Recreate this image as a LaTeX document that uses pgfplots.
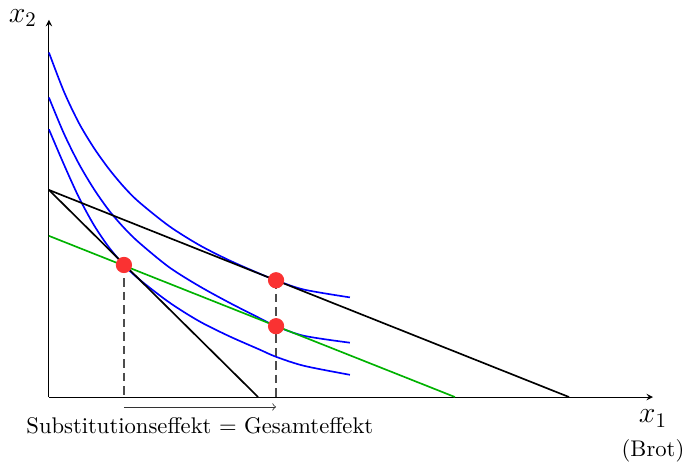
\documentclass[border=0pt]{standalone}
\usepackage{pgfplots}
\pgfplotsset{compat=1.18}
\definecolor{dotred}{RGB}{250,50,50}
\definecolor{lgreen}{RGB}{0,178,0}

\begin{document}
\begin{tikzpicture}
\begin{axis}[
    x=0.508cm, y=0.508cm,
    xmin=0, xmax=20.13, ymin=0, ymax=12.57,
    axis lines=left,
    axis line style={thin},
    xtick=\empty, ytick=\empty,
    clip=false,
]
% Rahmen fuer die Bildgroesse
\path (axis cs:-1.63,-2.2) rectangle (axis cs:21.23,13.23);
% Indifferenzkurven
\addplot[blue, thick, smooth] coordinates {
    (0,11.48) (0.5,10.18) (1,9.13) (1.5,8.30) (2,7.60) (2.5,7.00) (3,6.50)
    (4,5.70) (5,5.07) (6,4.56) (7,4.12) (7.57,3.89) (8.5,3.58) (10.03,3.32)};
\addplot[blue, thick, smooth] coordinates {
    (0,9.98) (0.5,8.78) (1,7.77) (1.5,6.93) (2,6.22) (2.5,5.64) (3,5.15)
    (4,4.33) (5,3.70) (6,3.15) (7,2.64) (7.57,2.36) (8.5,2.04) (10.03,1.81)};
\addplot[blue, thick, smooth] coordinates {
    (0,8.92) (0.5,7.75) (1,6.65) (1.5,5.73) (2,4.99) (2.5,4.40) (3,3.93)
    (4,3.16) (5,2.53) (6,2.03) (7,1.59) (7.57,1.34) (8.5,1.04) (10.03,0.74)};
% Budgetgeraden
\addplot[black, thick] coordinates {(0,6.90) (6.97,0)};
\addplot[black, thick] coordinates {(0,6.90) (17.33,0)};
\addplot[lgreen, thick] coordinates {(0,5.37) (13.53,0)};
% Hilfslinien
\addplot[black!70, semithick, dash pattern=on 4pt off 2.5pt] coordinates {(2.50,4.40) (2.50,0)};
\addplot[black!70, semithick, dash pattern=on 4pt off 2.5pt] coordinates {(7.57,3.89) (7.57,0)};
% Optima
\addplot[only marks, mark=*, mark size=3.7pt, dotred] coordinates {
    (2.50,4.40) (7.57,3.89) (7.57,2.36)};
% Effekt
\addplot[black!80, thin, ->] coordinates {(2.50,-0.33) (7.57,-0.33)};
\node[inner sep=0pt, font=\fontsize{10.9}{13}\selectfont] at (axis cs:5.03,-0.95) {Substitutionseffekt = Gesamteffekt};
\node[inner sep=0pt, font=\Large] at (axis cs:20.13,-0.72) {$x_1$};
\node[inner sep=0pt, font=\fontsize{10.9}{13}\selectfont] at (axis cs:20.13,-1.78) {(Brot)};
\node[inner sep=0pt, font=\Large] at (axis cs:-0.87,12.63) {$x_2$};
\end{axis}
\end{tikzpicture}
\end{document}
